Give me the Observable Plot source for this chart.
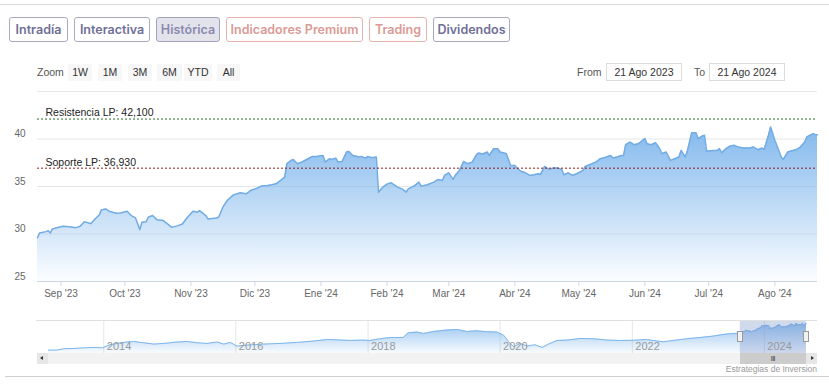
<!DOCTYPE html>
<html><head><meta charset="utf-8">
<script src="https://cdn.jsdelivr.net/npm/d3@7"></script>
<script src="https://cdn.jsdelivr.net/npm/@observablehq/plot@0.6"></script>
<style>
body{margin:0;background:#fff;}
#wrap{position:relative;width:829px;height:389px;overflow:hidden;font-family:"Liberation Sans",Arial,sans-serif;background:#fff;}
.hl{position:absolute;height:1px;}
.tabs{position:absolute;left:9px;top:17px;display:flex;gap:6px;}
.tab{box-sizing:border-box;height:25px;border:1px solid #a9a9c4;border-radius:3px;color:#6f6f98;font-family:Inter,"Open Sans",sans-serif;font-weight:600;font-size:12.5px;display:flex;align-items:center;justify-content:center;}
.tab.sel{background:#e3e3ec;color:#8a8aae;border-color:#a2a2c0;}
.tab.pink{color:#db9a94;border-color:#e6b3ad;}
.zl{position:absolute;top:64px;font-size:10.5px;color:#555;line-height:17px;}
.zb{position:absolute;top:64px;height:17px;line-height:17px;background:#f7f7f7;color:#333;font-size:10.5px;text-align:center;}
.inp{position:absolute;top:63px;height:18px;box-sizing:border-box;border:1px solid #dcdcdc;background:#fff;color:#333;font-size:10.5px;line-height:16px;text-align:center;width:76px;}
#main{position:absolute;left:0;top:80px;}
#nav{position:absolute;left:0;top:316px;}
svg{overflow:visible;}
.track{position:absolute;left:37px;top:353px;width:780px;height:11px;background:#f2f2f2;}
.btn{position:absolute;top:353px;width:11px;height:11px;background:#e6e6e6;}
.thumb{position:absolute;top:353px;height:11px;background:#cccccc;color:#333;font-size:7px;line-height:11px;text-align:center;letter-spacing:-0.5px;}
.handle{position:absolute;top:331px;width:6px;height:11px;background:#f2f2f2;border:1px solid #999;box-sizing:border-box;}
.credit{position:absolute;right:12px;top:364px;font-size:8.5px;color:#999;}
</style></head>
<body>
<svg width="0" height="0" style="position:absolute">
<defs>
<linearGradient id="gradMain" x1="0" y1="0" x2="0" y2="1">
<stop offset="0" stop-color="#7cb5ec" stop-opacity="0.95"/>
<stop offset="1" stop-color="#7cb5ec" stop-opacity="0.03"/>
</linearGradient>
<linearGradient id="gradNav" x1="0" y1="0" x2="0" y2="1">
<stop offset="0" stop-color="#7cb5ec" stop-opacity="0.8"/>
<stop offset="1" stop-color="#7cb5ec" stop-opacity="0.05"/>
</linearGradient>
</defs>
</svg>
<div id="wrap">
  <div class="hl" style="left:0;top:4px;width:829px;background:#d9d9d9"></div>
  <div class="tabs" id="tabs"></div>
  <div class="zl" style="left:37px">Zoom</div>
  <div id="zoomBtns"></div>
  <div class="zl" style="left:577px">From</div>
  <div class="inp" style="left:606px" id="from"></div>
  <div class="zl" style="left:694px">To</div>
  <div class="inp" style="left:709px" id="to"></div>
  <div id="main"></div>
  <div class="hl" style="left:36px;top:320px;width:781px;background:#e0e0e0"></div>
  <div id="nav"></div>
  <div class="track"></div>
  <div class="btn" style="left:37px"><div style="position:absolute;left:3px;top:3px;width:0;height:0;border-top:2.5px solid transparent;border-bottom:2.5px solid transparent;border-right:3px solid #333"></div></div>
  <div class="btn" style="left:806px"><div style="position:absolute;left:5px;top:3px;width:0;height:0;border-top:2.5px solid transparent;border-bottom:2.5px solid transparent;border-left:3px solid #333"></div></div>
  <div class="thumb" id="thumb">III</div>
  <div class="handle" id="h1"></div>
  <div class="handle" id="h2"></div>
  <div class="credit">Estrategias de Inversion</div>
  <div class="hl" style="left:5px;top:376px;width:824px;background:#cfcfcf"></div>
</div>
<script>
// ---- UI labels ----
const pestanas = ["Intradía", "Interactiva", "Histórica", "Indicadores Premium", "Trading", "Dividendos"];
const zoomBotones = ["1W", "1M", "3M", "6M", "YTD", "All"];
const desdeTexto = "21 Ago 2023";
const hastaTexto = "21 Ago 2024";
const mesesES = ["Ene","Feb","Mar","Abr","May","Jun","Jul","Ago","Sep","Oct","Nov","Dic"];

// ---- main series (closing price) ----
const fechas = [
  "2023-08-21","2023-08-22","2023-08-25","2023-08-26","2023-08-27","2023-08-28","2023-08-31",
  "2023-09-02","2023-09-05","2023-09-08","2023-09-10","2023-09-12","2023-09-14","2023-09-15","2023-09-17","2023-09-19","2023-09-20","2023-09-22","2023-09-24","2023-09-27","2023-09-29",
  "2023-10-02","2023-10-04","2023-10-06","2023-10-08","2023-10-09","2023-10-11","2023-10-12","2023-10-14","2023-10-16","2023-10-19","2023-10-21","2023-10-23","2023-10-26","2023-10-28","2023-10-30",
  "2023-11-02","2023-11-04","2023-11-05","2023-11-08","2023-11-09","2023-11-13","2023-11-14","2023-11-16","2023-11-18","2023-11-21","2023-11-24","2023-11-27","2023-11-29",
  "2023-12-02","2023-12-04","2023-12-07","2023-12-09","2023-12-11","2023-12-13","2023-12-15","2023-12-16","2023-12-18","2023-12-19","2023-12-21","2023-12-23","2023-12-26","2023-12-28","2023-12-30",
  "2024-01-02","2024-01-03","2024-01-05","2024-01-06","2024-01-08","2024-01-09","2024-01-11","2024-01-13","2024-01-14","2024-01-16","2024-01-19","2024-01-20","2024-01-22","2024-01-23","2024-01-25","2024-01-27","2024-01-28","2024-01-30",
  "2024-02-01","2024-02-03","2024-02-06","2024-02-08","2024-02-10","2024-02-11","2024-02-14","2024-02-16","2024-02-17","2024-02-20","2024-02-23","2024-02-25","2024-02-27","2024-02-28",
  "2024-03-01","2024-03-03","2024-03-04","2024-03-06","2024-03-08","2024-03-10","2024-03-12","2024-03-14","2024-03-15","2024-03-17","2024-03-19","2024-03-20","2024-03-22","2024-03-24","2024-03-25","2024-03-27","2024-03-28","2024-03-30",
  "2024-04-01","2024-04-02","2024-04-04","2024-04-06","2024-04-08","2024-04-10","2024-04-12","2024-04-13","2024-04-15","2024-04-17","2024-04-19","2024-04-21","2024-04-23","2024-04-24","2024-04-26","2024-04-28","2024-04-30",
  "2024-05-03","2024-05-04","2024-05-06","2024-05-09","2024-05-11","2024-05-13","2024-05-16","2024-05-17","2024-05-19","2024-05-21","2024-05-22","2024-05-23","2024-05-25","2024-05-27","2024-05-29","2024-05-30",
  "2024-06-01","2024-06-02","2024-06-04","2024-06-06","2024-06-08","2024-06-09","2024-06-11","2024-06-13","2024-06-15","2024-06-17","2024-06-18","2024-06-20","2024-06-21","2024-06-23","2024-06-25","2024-06-26","2024-06-28","2024-06-29","2024-06-30",
  "2024-07-03","2024-07-05","2024-07-06","2024-07-07","2024-07-09","2024-07-11","2024-07-13","2024-07-15","2024-07-17","2024-07-20","2024-07-22","2024-07-24","2024-07-26","2024-07-27","2024-07-29","2024-07-30",
  "2024-08-01","2024-08-04","2024-08-05","2024-08-07","2024-08-08","2024-08-11","2024-08-13","2024-08-15","2024-08-16","2024-08-19","2024-08-20","2024-08-21"
];
const cierre = [
  29.6,30.1,30.25,30.35,30.1,30.53,30.7,
  30.81,30.77,30.67,30.81,31.3,31.16,31.09,31.58,32.0,32.54,32.64,32.36,32.18,32.22,
  32.39,31.94,31.69,30.46,31.23,31.3,31.76,31.94,31.51,31.41,31.06,30.7,30.88,31.06,31.65,
  32.39,32.29,32.46,31.94,31.58,31.69,31.76,32.82,33.52,34.12,34.33,34.23,34.58,
  34.82,35.04,35.1,35.18,35.28,35.63,35.99,37.39,37.75,37.85,37.39,37.57,37.92,38.17,38.17,
  38.27,37.57,37.92,37.85,37.99,37.57,37.64,38.63,38.7,38.27,38.1,38.17,37.99,38.17,38.03,38.1,34.4,34.93,
  35.25,35.39,34.93,34.75,34.4,34.75,35.1,35.46,35.04,35.18,35.46,35.74,35.63,36.16,
  36.44,35.74,36.16,36.69,37.64,37.39,37.57,38.35,38.52,38.42,38.63,38.27,38.98,38.98,38.63,38.52,38.45,37.22,
  37.22,36.94,36.58,36.44,36.16,36.23,36.34,36.27,37.11,36.8,36.94,36.94,36.8,36.23,36.44,36.16,36.34,
  36.69,37.11,37.29,37.57,37.92,38.03,38.27,37.99,38.1,38.27,38.27,39.4,39.68,39.4,39.51,39.68,
  40.04,39.51,39.4,39.61,38.98,38.45,38.63,37.75,37.92,38.1,38.8,38.1,38.8,40.67,40.67,40.04,40.32,40.39,38.7,
  38.8,38.8,38.98,38.56,38.98,39.26,39.33,39.15,39.05,39.05,39.15,38.87,39.05,38.91,40.4,41.27,
  39.86,38.1,37.85,38.63,38.7,38.87,39.15,39.68,40.21,40.56,40.46,40.46
];

// ---- long history (navigator) before the selected year ----
const histFechas = [
  "2013-03-01","2013-04-15","2013-05-25","2013-07-20","2013-09-15","2013-11-05","2013-12-25",
  "2014-01-30","2014-03-15","2014-05-08","2014-06-15","2014-08-08","2014-10-05","2014-11-28",
  "2015-02-10","2015-04-05","2015-05-30","2015-07-25","2015-09-20","2015-10-27","2015-12-01",
  "2016-01-08","2016-03-03","2016-06-03","2016-09-02","2016-12-06",
  "2017-03-08","2017-05-20","2017-07-12","2017-09-25","2017-12-05",
  "2018-01-12","2018-03-10","2018-05-05","2018-07-15","2018-08-12","2018-09-28","2018-11-05","2018-12-28",
  "2019-03-10","2019-05-08","2019-07-01","2019-08-25","2019-10-20","2019-12-15",
  "2020-01-20","2020-02-18","2020-03-15","2020-04-20","2020-05-30","2020-07-12","2020-08-20","2020-09-25","2020-11-10",
  "2021-01-05","2021-03-18","2021-05-30","2021-08-15","2021-10-28",
  "2022-01-08","2022-03-20","2022-04-25","2022-06-20","2022-09-01","2022-10-30",
  "2023-01-12","2023-03-25","2023-06-05","2023-07-22"
];
const histCierre = [
  9.3,9.3,10.8,11.2,12.0,12.4,12.0,
  15.2,17.1,18.7,19.4,17.9,16.3,17.1,
  18.7,19.4,17.9,17.1,18.7,16.3,18.3,
  14.0,15.2,16.3,17.1,18.3,
  19.9,21.7,21.3,20.6,21.0,
  20.6,22.6,24.1,24.1,29.6,30.4,28.8,31.1,
  32.7,33.5,31.1,31.9,30.8,30.4,
  26.9,19.0,13.2,17.1,14.0,15.5,12.4,16.3,20.6,
  21.0,22.9,22.6,21.0,20.6,
  20.8,21.7,20.6,19.0,21.0,22.6,
  24.1,25.7,28.1,28.8
];

// ---- axes / levels ----
const ejeYTicks = [25, 30, 35, 40];
const ejeYGrid = [30, 35, 40, 45];
const ejeYDominio = [25, 45];
const ejeXTicks = ["2023-09-01","2023-10-01","2023-11-01","2023-12-01","2024-01-01","2024-02-01","2024-03-01","2024-04-01","2024-05-01","2024-06-01","2024-07-01","2024-08-01"];
const rangoDesde = "2023-08-21";
const rangoHasta = "2024-08-21";
const nivelesValor = [42.1, 36.93];
const nivelesTexto = ["Resistencia LP: 42,100", "Soporte LP: 36,930"];
const navDesde = "2012-12-25";
const navYDominio = [5.3, 42.8];
const navTicks = ["2014-01-01","2016-01-01","2018-01-01","2020-01-01","2022-01-01","2024-01-01"];

// styles
const nivelesColor = ["#2f6e2f", "#8e1f1f"];

if (fechas.length !== cierre.length) console.error("len mismatch", fechas.length, cierre.length);
if (histFechas.length !== histCierre.length) console.error("hist len mismatch");

const P = d3.utcParse("%Y-%m-%d");
const serie = fechas.map((f, i) => ({fecha: P(f), valor: cierre[i]}));
const navSerie = histFechas.map((f, i) => ({fecha: P(f), valor: histCierre[i]})).concat(serie);
const niveles = nivelesValor.map((v, i) => ({valor: v, texto: nivelesTexto[i], color: nivelesColor[i]}));

// UI
const tabsEl = document.getElementById("tabs");
const tabW = [59, 76, 64, 137, 58, 77];
pestanas.forEach((t, i) => {
  const d = document.createElement("div");
  d.className = "tab" + (i === 2 ? " sel" : "") + (i === 3 || i === 4 ? " pink" : "");
  d.style.width = tabW[i] + "px";
  d.textContent = t;
  tabsEl.appendChild(d);
});
const zbL = [68, 98, 128, 157, 184, 217], zbW = [24, 24, 24, 25, 28, 23];
const zbEl = document.getElementById("zoomBtns");
zoomBotones.forEach((t, i) => {
  const d = document.createElement("div");
  d.className = "zb"; d.style.left = zbL[i] + "px"; d.style.width = zbW[i] + "px";
  d.textContent = t; zbEl.appendChild(d);
});
document.getElementById("from").textContent = desdeTexto;
document.getElementById("to").textContent = hastaTexto;

const fmtMes = d => `${mesesES[d.getUTCMonth()]} '${String(d.getUTCFullYear()).slice(2)}`;

const main = Plot.plot({
  width: 829, height: 225,
  marginTop: 11, marginBottom: 24, marginLeft: 37, marginRight: 12,
  style: {fontFamily: "'Liberation Sans', Arial, sans-serif", fontSize: "10px", background: "none", overflow: "visible"},
  x: {type: "utc", domain: [P(rangoDesde), P(rangoHasta)], label: null},
  y: {domain: ejeYDominio, label: null},
  marks: [
    Plot.gridY(ejeYGrid, {stroke: "#e6e6e6", strokeOpacity: 1}),
    Plot.areaY(serie, {x: "fecha", y1: ejeYDominio[0], y2: "valor", fill: "url(#gradMain)"}),
    Plot.lineY(serie, {x: "fecha", y: "valor", stroke: "#72ace5", strokeWidth: 1.5}),
    Plot.ruleY(niveles, {y: "valor", stroke: "color", strokeDasharray: "2,2", strokeWidth: 1}),
    Plot.text(niveles, {y: "valor", text: "texto", frameAnchor: "left", textAnchor: "start", dx: 8, dy: -6, fill: "#222", fontSize: 10.5}),
    Plot.ruleY([ejeYDominio[0]], {stroke: "#ccd6eb"}),
    Plot.axisX({ticks: ejeXTicks.map(P), tickFormat: fmtMes, tickSize: 5, tickPadding: 3, stroke: "#ccd6eb", fill: "#666", fontSize: 10, label: null}),
    Plot.axisY({ticks: ejeYTicks, tickSize: 0, tickPadding: 12, dy: -5, fill: "#666", fontSize: 10, label: null})
  ]
});
document.getElementById("main").appendChild(main);

const nav = Plot.plot({
  width: 829, height: 40,
  marginTop: 5, marginBottom: 3, marginLeft: 36, marginRight: 23,
  style: {fontFamily: "'Liberation Sans', Arial, sans-serif", fontSize: "11px", background: "none", overflow: "visible"},
  x: {type: "utc", domain: [P(navDesde), P(rangoHasta)], label: null},
  y: {domain: navYDominio, axis: null, label: null},
  marks: [
    Plot.gridX(navTicks.map(P), {stroke: "#e6e6e6", strokeOpacity: 1}),
    Plot.areaY(navSerie, {x: "fecha", y1: navYDominio[0], y2: "valor", fill: "url(#gradNav)"}),
    Plot.lineY(navSerie, {x: "fecha", y: "valor", stroke: "#7cb5ec", strokeWidth: 1}),
    Plot.rect([{a: P(rangoDesde), b: P(rangoHasta)}], {x1: "a", x2: "b", fill: "#6685c2", fillOpacity: 0.3}),
    Plot.axisX({ticks: navTicks.map(P), tickFormat: d3.utcFormat("%Y"), tickSize: 0, tickPadding: 0, textAnchor: "start", dx: 3, dy: -11, fill: "#999", fontSize: 11, label: null})
  ]
});
document.getElementById("nav").appendChild(nav);

// navigator handles & scrollbar thumb placed via the navigator's x scale
const sx = nav.scale("x");
const xa = sx.apply(P(rangoDesde)), xb = sx.apply(P(rangoHasta));
const th = document.getElementById("thumb");
th.style.left = xa + "px"; th.style.width = (xb - xa) + "px";
document.getElementById("h1").style.left = (xa - 3) + "px";
document.getElementById("h2").style.left = (xb - 3) + "px";
</script>
</body></html>
